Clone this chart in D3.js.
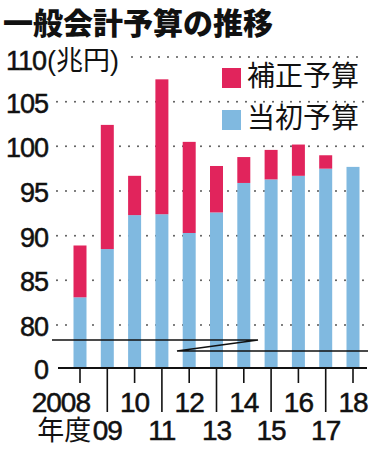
<!doctype html>
<html>
<head>
    <meta charset="utf-8">
    <title>一般会計予算の推移</title>
    <style>
        body {
            margin: 0;
            padding: 0;
            background: #fff;
        }
        text {
            font-family: "Liberation Sans", Arial, "Noto Sans CJK JP", sans-serif;
            fill: #111;
        }
        .num {
            stroke: #111;
            stroke-width: 0.5px;
        }
        .jp {
            font-family: "Noto Sans CJK JP", sans-serif;
        }
    </style>
</head>
<body>
    <svg id="chart" width="373" height="450"></svg>

    <script src="https://d3js.org/d3.v7.min.js"></script>
    <script>
        // 年度
        var years = ["2008", "09", "10", "11", "12", "13", "14", "15", "16", "17", "18"];
        // 当初予算 (兆円)
        var initial = [83.1, 88.5, 92.3, 92.4, 90.3, 92.6, 95.9, 96.3, 96.7, 97.5, 97.7];
        // 当初 + 補正 (兆円)
        var total = [88.9, 102.4, 96.7, 107.5, 100.5, 97.8, 98.8, 99.6, 100.2, 99.0, 97.7];
        var yTicks = [0, 80, 85, 90, 95, 100, 105, 110];

        var red = "#e1245c",
            blue = "#80b9e0";

        var svg = d3.select("#chart");

        // broken axis: 0-80 squeezed into the bottom strip
        var y = d3.scaleLinear()
            .domain([0, 80, 110])
            .range([368, 325, 57]);

        var x = d3.scalePoint()
            .domain(years)
            .range([80, 353]);

        var barW = 13;

        // title
        svg.append("text")
            .attr("class", "jp")
            .attr("x", 3)
            .attr("y", 34)
            .style("font-size", "30px")
            .style("font-weight", "900")
            .text("一般会計予算の推移");

        // dotted grid
        svg.selectAll(".grid")
            .data(yTicks.filter(function(d) { return d > 0; }))
            .enter().append("line")
            .attr("class", "grid")
            .attr("x1", function(d) { return d === 110 ? 132 : 57; })
            .attr("x2", 366)
            .attr("y1", function(d) { return y(d); })
            .attr("y2", function(d) { return y(d); })
            .style("stroke", "#555")
            .style("stroke-width", 2)
            .style("stroke-linecap", "round")
            .style("stroke-dasharray", "0,9");

        // y labels
        svg.selectAll(".ylab")
            .data(yTicks.filter(function(d) { return d !== 110; }))
            .enter().append("text")
            .attr("class", "ylab num")
            .attr("x", 48)
            .attr("y", function(d) { return y(d) + 11; })
            .attr("text-anchor", "end")
            .style("font-size", "27px")
            .style("letter-spacing", "-1px")
            .text(function(d) { return d; });

        svg.append("text")
            .attr("class", "num")
            .attr("x", 6)
            .attr("y", y(110) + 13)
            .style("font-size", "27px")
            .style("letter-spacing", "-1px")
            .text("110");

        svg.append("text")
            .attr("x", 47)
            .attr("y", y(110) + 13)
            .style("font-size", "27px")
            .text("(兆円)");

        // bars: 当初 then 補正 on top
        var bars = svg.selectAll(".bar")
            .data(years)
            .enter().append("g")
            .attr("class", "bar");

        bars.append("rect")
            .attr("x", function(d) { return x(d) - barW / 2; })
            .attr("width", barW)
            .attr("y", function(d, i) { return y(initial[i]); })
            .attr("height", function(d, i) { return y(0) - y(initial[i]); })
            .style("fill", blue);

        bars.append("rect")
            .attr("x", function(d) { return x(d) - barW / 2; })
            .attr("width", barW)
            .attr("y", function(d, i) { return y(total[i]); })
            .attr("height", function(d, i) { return y(initial[i]) - y(total[i]); })
            .style("fill", red);

        // axis break mark
        svg.append("path")
            .attr("d", "M52,340H258L177,351H368")
            .style("fill", "none")
            .style("stroke", "#111")
            .style("stroke-width", 1.6);

        // baseline and ticks
        svg.append("line")
            .attr("x1", 58).attr("x2", 367)
            .attr("y1", y(0)).attr("y2", y(0))
            .style("stroke", "#111")
            .style("stroke-width", 2);

        svg.selectAll(".tick")
            .data(years)
            .enter().append("line")
            .attr("class", "tick")
            .attr("x1", function(d) { return x(d); })
            .attr("x2", function(d) { return x(d); })
            .attr("y1", y(0))
            .attr("y2", function(d, i) { return i % 2 === 0 ? 383 : 412; })
            .style("stroke", "#111")
            .style("stroke-width", 1.6);

        // x labels: even years upper row, odd years lower row
        svg.selectAll(".xlab")
            .data(years)
            .enter().append("text")
            .attr("class", "xlab num")
            .attr("x", function(d, i) { return i === 0 ? x(d) + 10 : x(d); })
            .attr("y", function(d, i) { return i % 2 === 0 ? 412 : 440; })
            .attr("text-anchor", function(d, i) { return i === 0 ? "end" : "middle"; })
            .style("font-size", "28px")
            .style("letter-spacing", "-1px")
            .text(function(d) { return d; });

        svg.append("text")
            .attr("class", "jp")
            .attr("x", x("09") - 16)
            .attr("y", 440)
            .attr("text-anchor", "end")
            .style("font-size", "27px")
            .text("年度");

        // legend
        var legend = [
            {label: "補正予算", color: red},
            {label: "当初予算", color: blue}
        ];
        var lg = svg.selectAll(".legend")
            .data(legend)
            .enter().append("g")
            .attr("class", "legend")
            .attr("transform", function(d, i) { return "translate(222," + (68 + i * 42) + ")"; });

        lg.append("rect")
            .attr("width", 19)
            .attr("height", 20)
            .style("fill", function(d) { return d.color; });

        lg.append("text")
            .attr("class", "jp")
            .attr("x", 25)
            .attr("y", 18)
            .style("font-size", "28px")
            .text(function(d) { return d.label; });
    </script>
</body>
</html>
